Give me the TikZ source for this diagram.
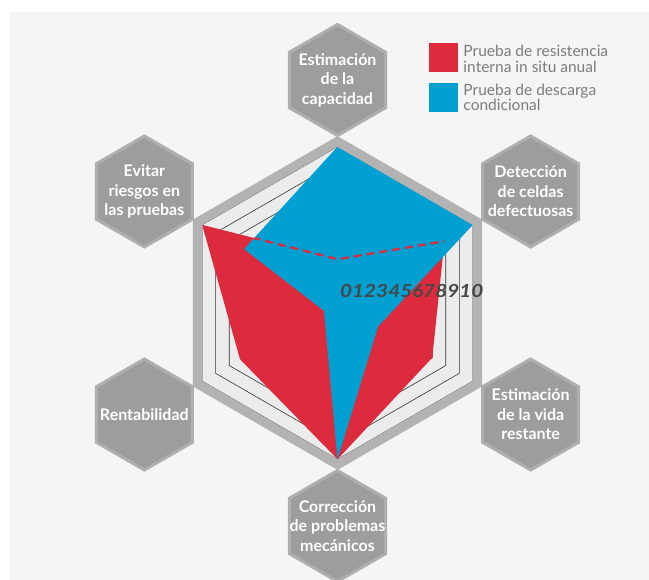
\documentclass[tikz,border=0pt]{standalone}
\usepackage{fontspec}
\setmainfont{Lato}
\usetikzlibrary{calc}
\definecolor{paper}{HTML}{F5F5F5}
\definecolor{web}{HTML}{ECECEC}
\definecolor{rim}{HTML}{B3B3B3}
\definecolor{hexgray}{HTML}{9D9D9D}
\definecolor{hexrim}{HTML}{AFAFAF}
\definecolor{testred}{HTML}{DD2A3C}
\definecolor{testblue}{HTML}{00A0D2}
\definecolor{legendgray}{HTML}{7C7C7C}
\definecolor{numgray}{HTML}{474747}
\def\hexa[#1](#2)(#3){\draw[#1] ($(#2)+(90:#3)$) -- ($(#2)+(30:#3)$) -- ($(#2)+(-30:#3)$) -- ($(#2)+(-90:#3)$) -- ($(#2)+(210:#3)$) -- ($(#2)+(150:#3)$) -- cycle;}
\def\lv{15.63}
\tikzset{
  axislabel/.style={text=white, font=\bfseries\fontsize{16}{19.5}\selectfont, align=center, inner sep=0pt},
  legendtext/.style={text=legendgray, font=\fontsize{15.5}{15.5}\selectfont, align=left, anchor=west, inner sep=0pt},
  numlabel/.style={text=numgray, font=\bfseries\itshape\fontsize{18}{20}\selectfont, inner sep=0pt}
}

\begin{document}
\begin{tikzpicture}[x=1pt, y=1pt]
			%%%%% START %%%%%
			
			\useasboundingbox (-337.5, -277) rectangle (311.5, 303);
			\fill[white] (-337.5, -277) rectangle (311.5, 303);
			\fill[paper] (-327.5, -277) rectangle (311.5, 291);
			
			\hexa[fill=web, draw=none](0, 0)(161.5);
			\foreach \k in {1,...,10}
				\hexa[draw=black!80, line width=0.6pt](0, 0)({\k*\lv});
			
			\fill[testred] (90:{2.8*\lv}) -- (30:{7.9*\lv}) -- (-30:{7*\lv}) -- (-90:{10*\lv}) -- (210:{7.2*\lv}) -- (150:{10*\lv}) -- cycle;
			\fill[testblue] (90:{10*\lv}) -- (30:{10*\lv}) -- (-30:{3*\lv}) -- (-90:{10*\lv}) -- (210:{1*\lv}) -- (150:{6.9*\lv}) -- cycle;
			\begin{scope}
				\clip (90:{10*\lv}) -- (30:{10*\lv}) -- (-30:{3*\lv}) -- (-90:{10*\lv}) -- (210:{1*\lv}) -- (150:{6.9*\lv}) -- cycle;
				\draw[testred, line width=2.3pt, dash pattern=on 8pt off 5pt] (150:{10*\lv}) -- (90:{2.8*\lv}) -- (30:{7.9*\lv});
			\end{scope}
			
			\hexa[draw=rim, line width=9.3pt](0, 0)(161.5);
			
			\foreach \a in {90, 30, -30, -90, 210, 150}
				\hexa[fill=hexgray, draw=hexrim, line width=3pt](\a:223)(55.5);
			
			\node[axislabel] (capacidad) at (90:223) {Estimación\\de la\\capacidad};
			\node[axislabel] (celdas) at (30:223) {Detección\\de celdas\\defectuosas};
			\node[axislabel] (vida) at (-30:223) {Estimación\\de la vida\\restante};
			\node[axislabel] (mecanicos) at (-90:223) {Corrección\\de problemas\\mecánicos};
			\node[axislabel] (rentabilidad) at (210:223) {Rentabilidad};
			\node[axislabel] (riesgos) at (150:223) {Evitar\\riesgos en\\las pruebas};
			
			\node[numlabel, anchor=west, xscale=1.15] (escala) at (2.5, 12) {012345678910};
			
			\fill[testred] (91.8, 231.3) rectangle (120.2, 259.7);
			\node[legendtext] (anual) at (125.8, 244) {Prueba de resistencia\\interna in situ anual};
			\fill[testblue] (91.8, 191.3) rectangle (120.2, 220.3);
			\node[legendtext] (condicional) at (125.8, 205.5) {Prueba de descarga\\condicional};
			
			%%%%% END %%%%%
\end{tikzpicture}
\end{document}
